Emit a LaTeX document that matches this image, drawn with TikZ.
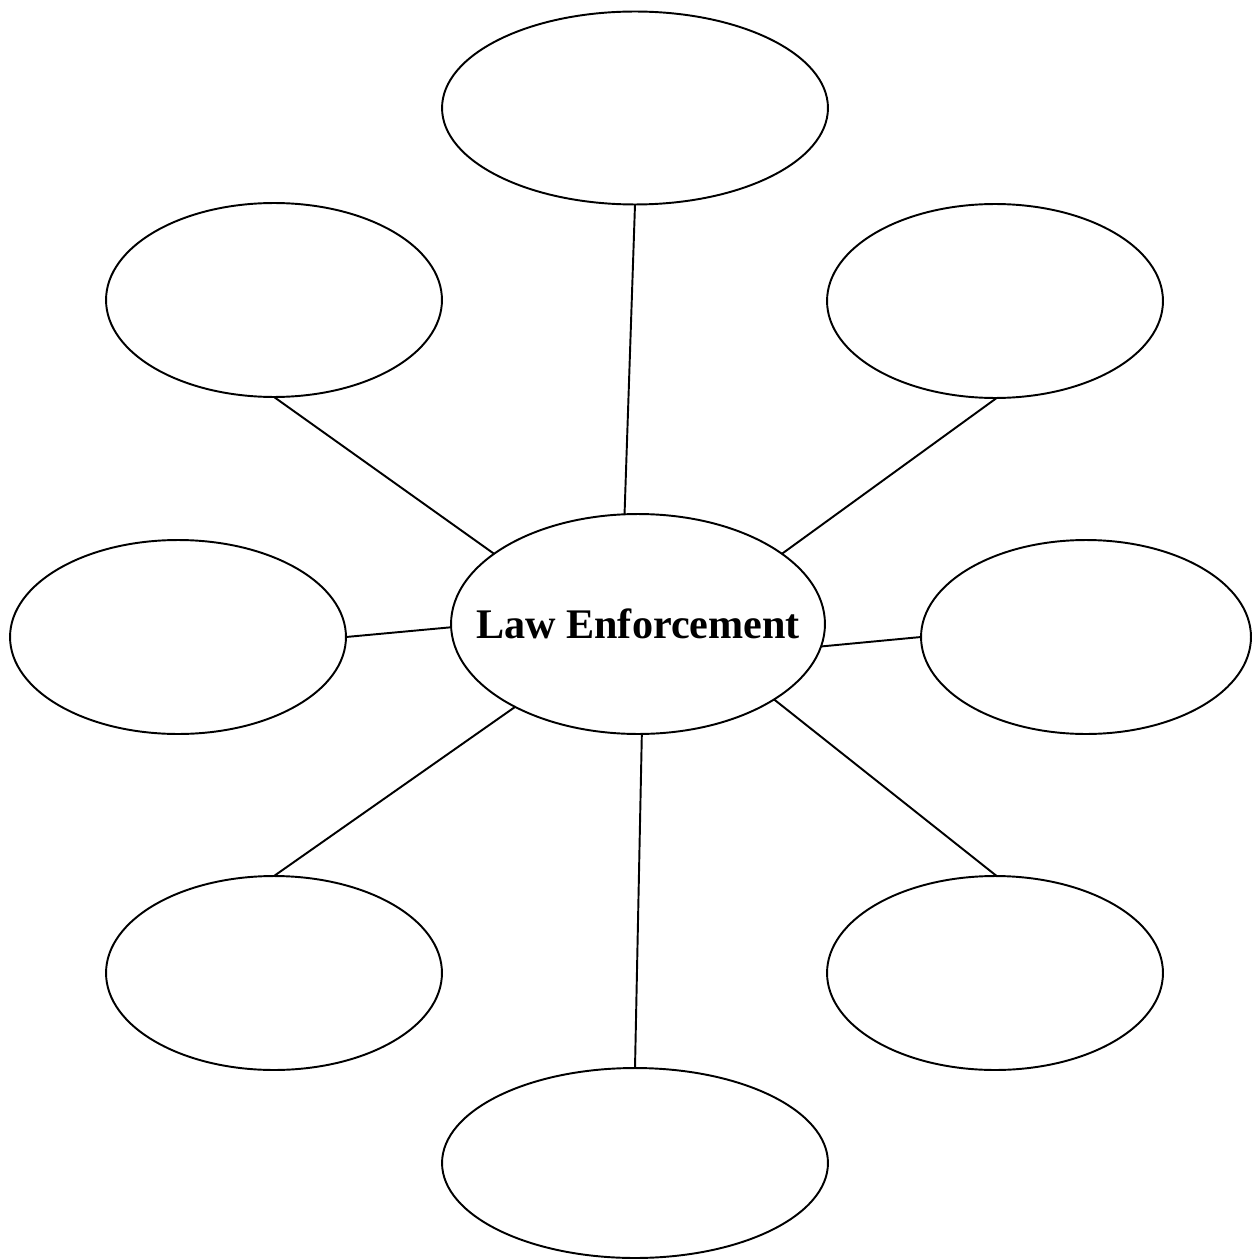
\documentclass[tikz,border=0pt]{standalone}
\usepackage{fontspec}
\setmainfont{Liberation Serif}
\usetikzlibrary{shapes.geometric}
\begin{document}
\begin{tikzpicture}[x=0.02cm,y=-0.02cm,
  bubble/.style={ellipse,draw,line width=1.1pt,inner sep=0pt,outer sep=0pt,
                 minimum width=6.72cm,minimum height=3.88cm},
  spoke/.style={line width=1.1pt},
  topic/.style={font=\fontsize{24}{28}\selectfont\bfseries,inner sep=0pt}]
\useasboundingbox (0,0) rectangle (1251,1260);
% central topic: the ellipse keeps its own size, the title sits on it
\node[bubble,minimum width=7.48cm,minimum height=4.4cm,
      label={[topic,name=title]center:Law Enforcement}] (c) at (638,624) {};
% surrounding empty bubbles
\node[bubble,minimum width=7.72cm,minimum height=3.86cm] (t)  at (635,108) {};
\node[bubble] (ul) at (274,300) {};
\node[bubble] (ur) at (995,301) {};
\node[bubble] (l)  at (178,637) {};
\node[bubble,minimum width=6.6cm] (r)  at (1086,637) {};
\node[bubble] (ll) at (274,973) {};
\node[bubble] (lr) at (995,973) {};
\node[bubble,minimum width=7.72cm,minimum height=3.8cm] (b)  at (635,1163) {};
% spokes
\draw[spoke] (t.south)  -- (c.97);
\draw[spoke] (ul.south) -- (c.154);
\draw[spoke] (ur.271)   -- (c.26);
\draw[spoke] (l.east)   -- (c.181);
\draw[spoke] (r.west)   -- (c.353);
\draw[spoke] (ll.north) -- (c.214);
\draw[spoke] (b.north)  -- (c.272);
\draw[spoke] (lr.89)    -- (c.331);
\end{tikzpicture}
\end{document}
